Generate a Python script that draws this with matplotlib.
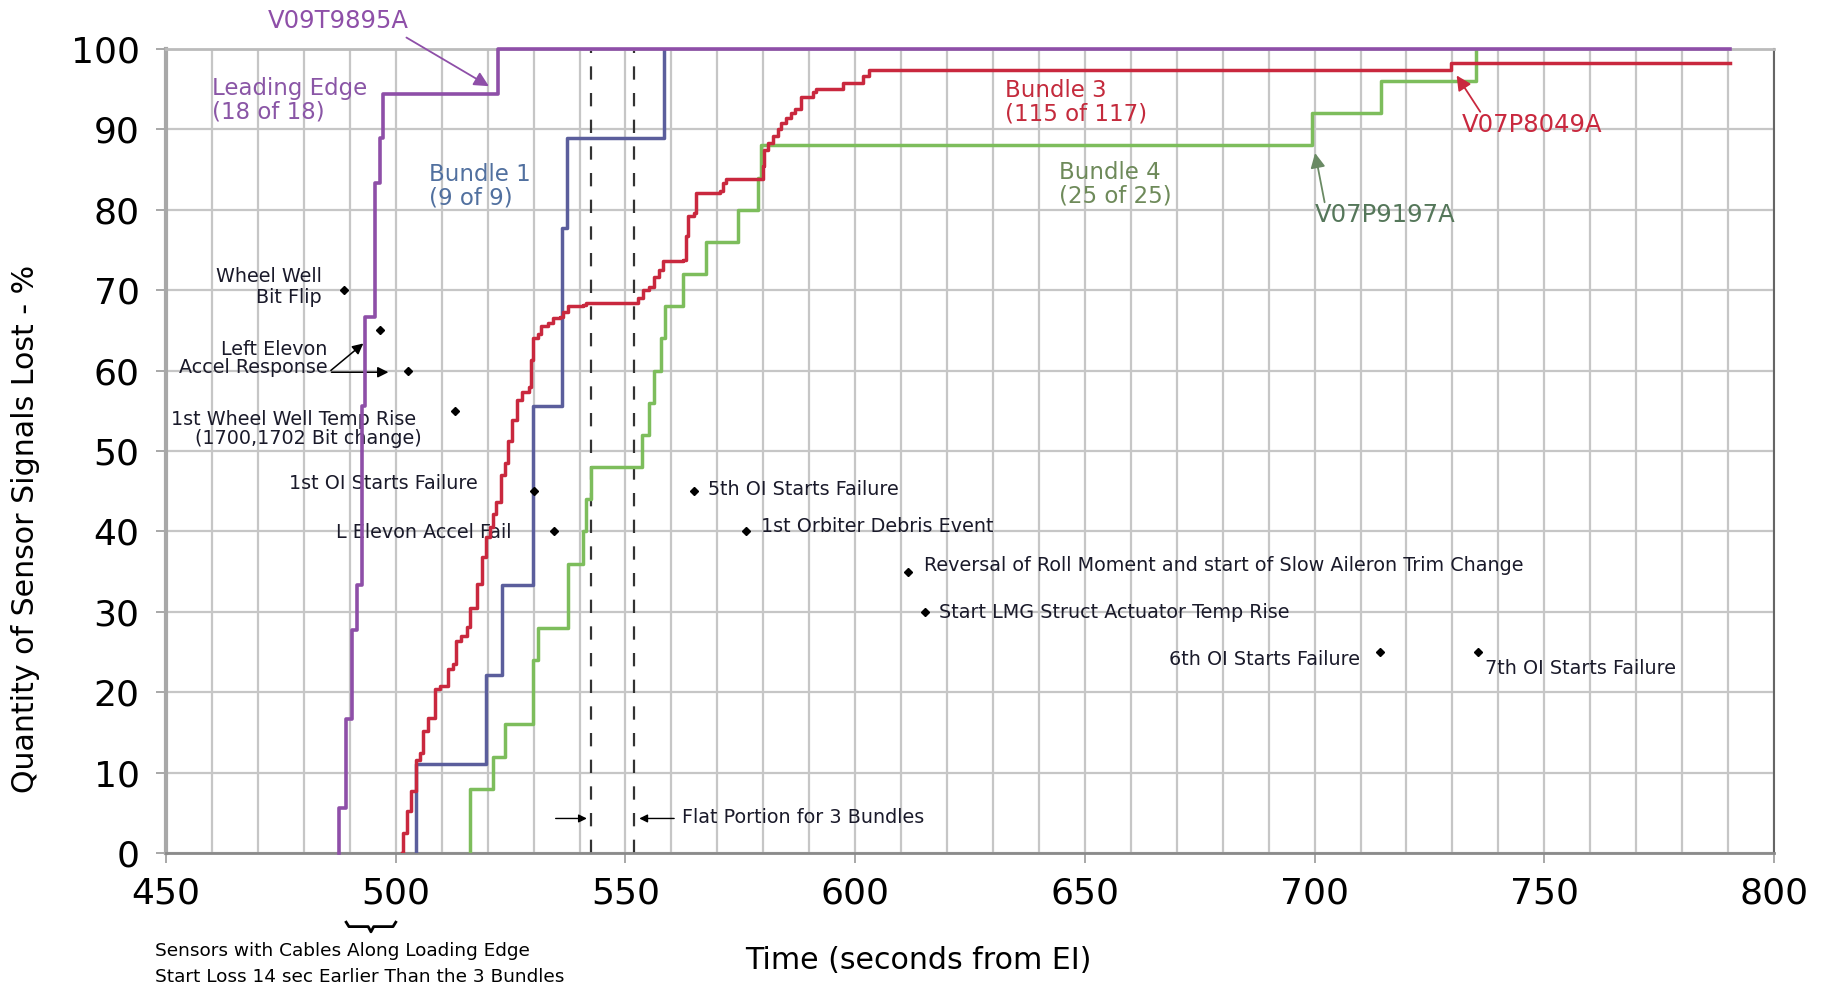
import numpy as np
import matplotlib
matplotlib.use('Agg')
from matplotlib import pyplot as plt

# ---- data: time (s from EI) vs % of sensor signals lost
le_time = [487.6, 487.6, 489.1, 490.5, 491.6, 492.7, 493.4, 495.5, 496.6, 497.3, 522.2, 790.5]
le_pct = [0, 5.6, 16.7, 27.8, 33.3, 55.6, 66.7, 83.3, 88.9, 94.4, 100, 100]

b1_time = [504.5, 504.5, 519.7, 523.2, 529.9, 536.2, 537.3, 558.4]
b1_pct = [0, 11.1, 22.2, 33.3, 55.6, 77.8, 88.9, 100]

b3_time = [501.3, 501.6, 502.5, 503.4, 504.5, 505.2, 506.0, 507.1, 508.5, 509.6,
           511.4, 512.5, 513.2, 514.3, 515.4, 516.1, 517.6, 518.7, 519.7, 520.5,
           521.2, 521.9, 523.0, 523.7, 524.5, 525.2, 526.3, 527.4, 528.9, 529.5,
           529.9, 531.0, 531.7, 533.2, 534.2, 535.7, 536.4, 537.5, 540.8, 541.5,
           552.7, 553.8, 555.2, 556.3, 557.4, 558.1, 562.5, 563.2, 563.6, 565.0,
           565.4, 570.5, 571.2, 571.9, 579.9, 580.2, 581.0, 582.1, 583.1, 583.9,
           585.0, 586.1, 586.8, 588.2, 590.8, 591.5, 597.3, 601.6, 603.1, 729.7, 790.5]
b3_pct = [0, 2.5, 5.2, 7.7, 11.6, 12.5, 15.2, 16.8, 20.4, 20.8,
          22.9, 23.5, 26.4, 27.0, 28.1, 30.5, 33.5, 36.8, 39.3, 40.5,
          42.2, 43.6, 47.0, 48.5, 51.3, 53.8, 56.3, 57.4, 58.0, 61.3,
          64.0, 64.6, 65.5, 65.9, 66.5, 66.7, 67.3, 68.0, 68.2, 68.4,
          69.0, 70.0, 70.4, 71.7, 72.5, 73.6, 73.8, 76.7, 79.2, 79.6,
          82.1, 82.3, 83.3, 83.8, 85.4, 87.5, 88.3, 89.2, 90.0, 90.8,
          91.4, 92.1, 92.5, 94.0, 94.6, 95.0, 95.8, 96.6, 97.4, 98.3, 98.3]

b4_time = [516.1, 516.1, 521.2, 523.7, 529.9, 531.0, 537.5, 540.8, 541.5, 542.6,
           553.6, 555.2, 556.3, 557.8, 558.5, 562.5, 567.6, 574.4, 578.8, 579.5,
           699.5, 714.5, 735.2]
b4_pct = [0, 8, 12, 16, 24, 28, 36, 40, 44, 48,
          52, 56, 60, 64, 68, 72, 76, 80, 84, 88,
          92, 96, 100]

flat_start, flat_end = 542.6, 551.8

ev_time = [488.7, 496.5, 502.6, 512.8, 530.1, 534.5, 565.0, 576.2, 611.5, 615.3, 714.2, 735.5]
ev_pct = [70, 65, 60, 55, 45, 40, 45, 40, 35, 30, 25, 25]

PURPLE = '#8e4fa8'
BLUE = '#5b5e9c'
RED = '#c9283e'
GREEN = '#7dbd5c'

plt.rcParams['font.family'] = 'DejaVu Sans'

fig = plt.figure(figsize=(18.23, 9.88), dpi=100)
ax = fig.add_axes([0.0911, 0.1366, 0.8820, 0.8138])

ax.set_xlim(450, 800)
ax.set_ylim(0, 100)
ax.set_xticks(np.arange(450, 801, 50))
ax.set_xticks(np.arange(450, 801, 10), minor=True)
ax.set_yticks(np.arange(0, 101, 10))
ax.grid(True, which='both', axis='x', color='#c6c6c6', lw=1.6, zorder=0)
ax.grid(True, which='major', axis='y', color='#c6c6c6', lw=1.6, zorder=0)
ax.set_axisbelow(True)

ax.tick_params(axis='both', which='major', length=7, width=1.2, color='#999999',
               labelsize=26, pad=10)
ax.tick_params(axis='x', which='minor', length=0)
ax.tick_params(axis='y', pad=12)

ax.spines['left'].set_color('#a8a8a8')
ax.spines['left'].set_linewidth(3)
ax.spines['bottom'].set_color('#8a8a8a')
ax.spines['bottom'].set_linewidth(2)
ax.spines['right'].set_color('#666666')
ax.spines['right'].set_linewidth(1.5)
ax.spines['top'].set_color('#bbbbbb')
ax.spines['top'].set_linewidth(2)

# flat portion markers
for t in (flat_start, flat_end):
    ax.axvline(t, color='#333333', lw=1.6, linestyle=(0, (6, 6)), zorder=2)

ax.plot(b4_time, b4_pct, drawstyle='steps-post', color=GREEN, lw=2.5, zorder=3)
ax.plot(b1_time, b1_pct, drawstyle='steps-post', color=BLUE, lw=2.5, zorder=3)
ax.plot(b3_time, b3_pct, drawstyle='steps-post', color=RED, lw=2.5, zorder=4)
ax.plot(le_time, le_pct, drawstyle='steps-post', color=PURPLE, lw=2.6, zorder=5,
        clip_on=False)

ax.plot(ev_time, ev_pct, 'D', color='black', ms=4.5, zorder=6)

# series labels
lab = dict(fontsize=16.5, va='center', linespacing=1.0)
ax.text(460.1, 93.6, 'Leading Edge\n(18 of 18)', color='#8a56a6', **lab)
ax.text(507.2, 82.9, 'Bundle 1\n(9 of 9)', color='#51709f', **lab)
ax.text(632.7, 93.4, 'Bundle 3\n(115 of 117)', color='#c42a3c', **lab)
ax.text(644.4, 83.2, 'Bundle 4\n(25 of 25)', color='#6e8a5a', **lab)

ax.text(487.5, 103.5, 'V09T9895A', color=PURPLE, fontsize=17.5,
        ha='center', va='center', clip_on=False)
ax.annotate('', xy=(520.8, 95.2), xytext=(501.8, 101.6), annotation_clip=False,
            arrowprops=dict(arrowstyle='-|>', color=PURPLE, lw=1.3, mutation_scale=22))
ax.text(732.0, 90.5, 'V07P8049A', color=RED, fontsize=17.5, ha='left', va='center')
ax.annotate('', xy=(730.6, 97.0), xytext=(736.4, 91.9),
            arrowprops=dict(arrowstyle='-|>', color=RED, lw=1.3, mutation_scale=22))
ax.text(700.0, 79.3, 'V07P9197A', color='#55775a', fontsize=17.5, ha='left', va='center')
ax.annotate('', xy=(700.0, 87.4), xytext=(702.3, 80.6),
            arrowprops=dict(arrowstyle='-|>', color='#6a8a64', lw=1.3, mutation_scale=22))

# event labels
ev = dict(fontsize=13.8, color='#1a1a2a', va='center')
ax.text(483.9, 70.4, 'Wheel Well\nBit Flip', ha='right', multialignment='right',
        linespacing=1.1, **ev)
ax.text(485.2, 61.5, 'Left Elevon\nAccel Response', ha='right', multialignment='right',
        linespacing=0.9, **ev)
ax.annotate('', xy=(493.4, 63.6), xytext=(485.4, 59.8),
            arrowprops=dict(arrowstyle='-|>', color='black', lw=1.1, mutation_scale=16))
ax.annotate('', xy=(499.0, 59.8), xytext=(485.4, 59.8),
            arrowprops=dict(arrowstyle='-|>', color='black', lw=1.1, mutation_scale=16))
ax.text(451.0, 53.9, '1st Wheel Well Temp Rise', ha='left', **ev)
ax.text(456.3, 51.6, '(1700,1702 Bit change)', ha='left', **ev)
ax.text(517.8, 46.0, '1st OI Starts Failure', ha='right', **ev)
ax.text(525.2, 39.9, 'L Elevon Accel Fail', ha='right', **ev)
ax.text(568.0, 45.2, '5th OI Starts Failure', ha='left', **ev)
ax.text(579.6, 40.6, '1st Orbiter Debris Event', ha='left', **ev)
ax.text(615.0, 35.8, 'Reversal of Roll Moment and start of Slow Aileron Trim Change',
        ha='left', **ev)
ax.text(618.3, 29.9, 'Start LMG Struct Actuator Temp Rise', ha='left', **ev)
ax.text(709.9, 24.1, '6th OI Starts Failure', ha='right', **ev)
ax.text(737.0, 23.0, '7th OI Starts Failure', ha='left', **ev)

ax.text(562.4, 4.4, 'Flat Portion for 3 Bundles', ha='left', **ev)
ax.annotate('', xy=(542.2, 4.3), xytext=(534.2, 4.3),
            arrowprops=dict(arrowstyle='-|>', color='black', lw=1.0, mutation_scale=12))
ax.annotate('', xy=(552.4, 4.3), xytext=(561.2, 4.3),
            arrowprops=dict(arrowstyle='-|>', color='black', lw=1.0, mutation_scale=12))

# brace under the axis for the leading-edge note
tr = ax.get_xaxis_transform()
bx = [489.2, 489.8, 494.0, 494.6, 495.2, 499.4, 500.0]
by = [-0.086, -0.0915, -0.0915, -0.098, -0.0915, -0.0915, -0.086]
ax.plot(bx, by, color='black', lw=2, transform=tr, clip_on=False)

fig.text(0.0848, 0.0374, 'Sensors with Cables Along Loading Edge', fontsize=13.3,
         va='center', ha='left')
fig.text(0.0848, 0.0115, 'Start Loss 14 sec Earlier Than the 3 Bundles', fontsize=13.3,
         va='center', ha='left')

fig.text(0.504, 0.0283, 'Time (seconds from EI)', fontsize=21.6, ha='center', va='center')
fig.text(0.014, 0.4646, 'Quantity of Sensor Signals Lost - %', fontsize=21.6,
         rotation=90, ha='center', va='center')

fig.savefig('out.png', dpi=100)
